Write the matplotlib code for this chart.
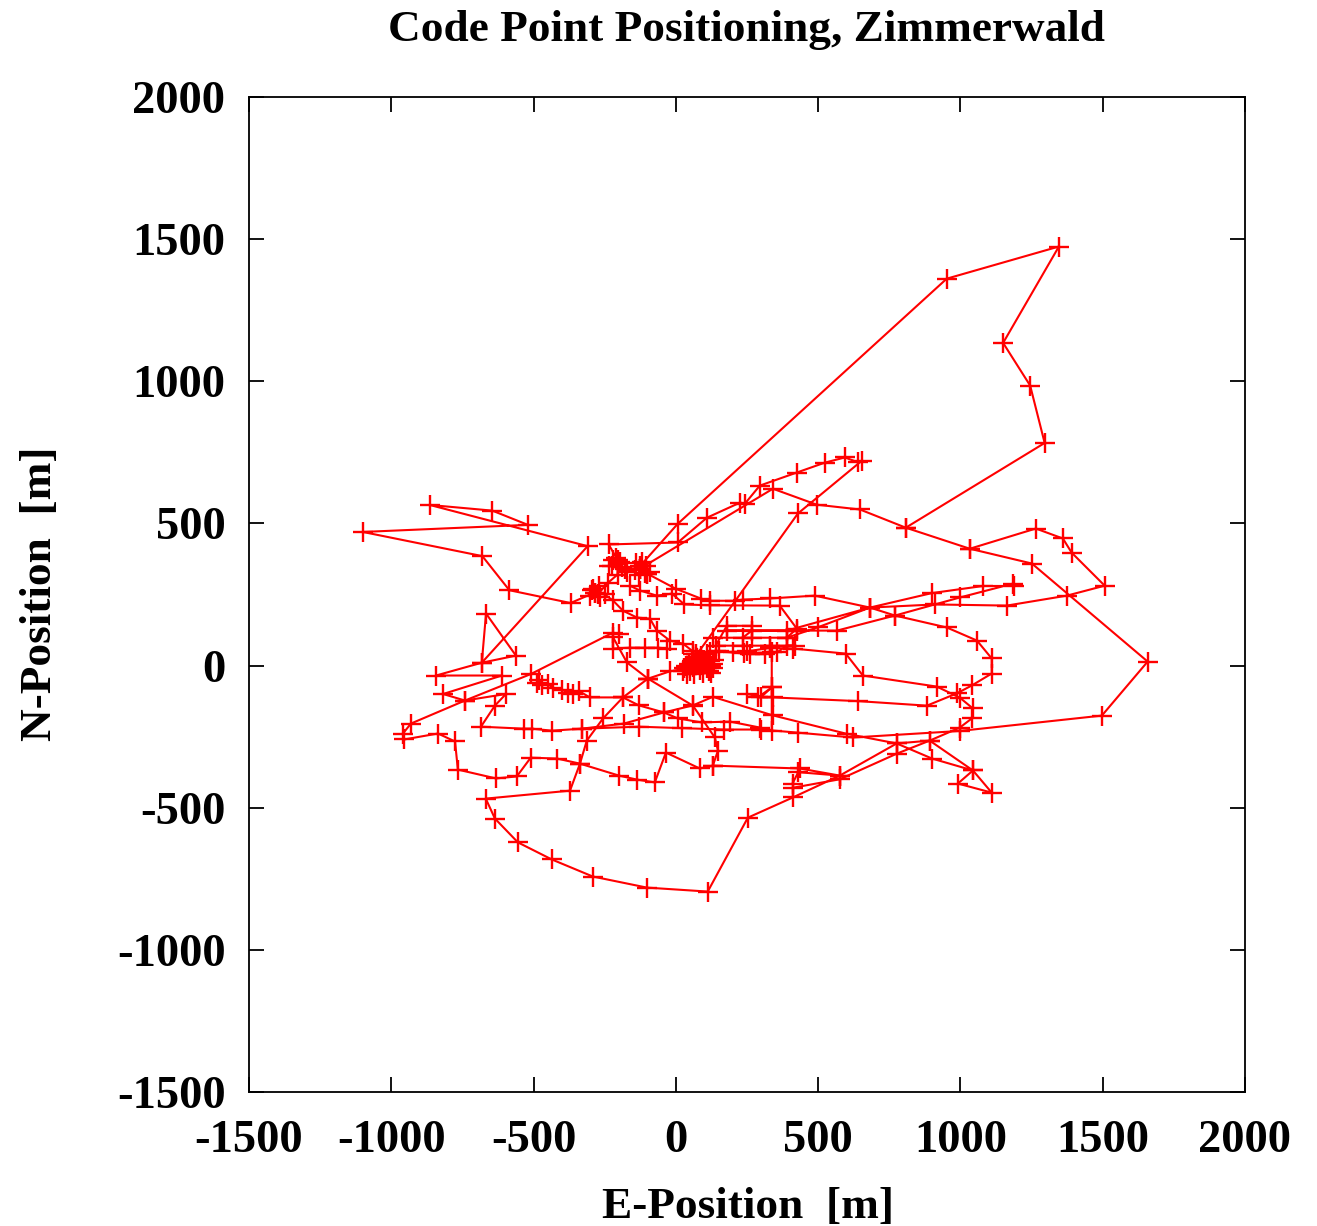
#!/bin/python3
import matplotlib
matplotlib.use('Agg')
import matplotlib.pyplot as plt

# positions, in metres, one list pair per stretch of the track
# dense knot in the middle, then chain up to the left
knot_e = [50, 80, 110, 70, 125, 40, 100, 60, 120, 85, 130, 30, 95, 55, 115, 75, 125, 45, 105, 70, 135, 25, 125, 65, 90, 35, 130, 110, 60, 25, -21, -67, -91, -137, -186, -221, -250, -285, -300, -270, -290, -265, -295, -275, -240, -205, -204, -220, -190, -210, -195, -225, -170, -126, -140, -110, -130, -105, -145, -120, -90, -126]
knot_n = [-20, 10, -10, 30, 0, -30, 20, -5, 15, -15, 5, -10, -25, 15, -20, 25, -5, 5, 5, 40, 20, -20, -25, -30, 35, 0, -10, 40, 50, 77, 88, 123, 165, 169, 193, 229, 250, 257, 245, 280, 270, 240, 265, 250, 290, 320, 359, 370, 345, 380, 365, 350, 330, 341, 360, 325, 320, 350, 335, 365, 330, 341]

# outer loop along the bottom, back through the right side
loop_e = [40, -20, -98, -186, -256, -313, -337, -372, -668, -636, -555, -436, -292, -102, 112, 253, 411, 576, 776, 892, 998, 1040, 1044, 998, 917, 657, 597, 411, 330, 250, 120, 60]
loop_n = [-10, -20, -46, -112, -186, -264, -345, -440, -468, -538, -622, -682, -742, -781, -795, -535, -464, -387, -274, -264, -218, -186, -151, -113, -74, -35, 42, 60, 62, 50, 46, 20]

# top right, up to the highest point and back to the knot
top_e = [60, 429, 654, 640, 594, 524, 425, 295, 243, 225, 109, 7, -236, -204, -235, -180, -126, 341, 495, 647, 808, 1296, 1245, 1150, 1346, 952, 7, -126, -100]
top_n = [20, 535, 721, 715, 732, 714, 679, 633, 570, 573, 520, 433, 426, 370, 350, 340, 341, 622, 566, 549, 485, 783, 985, 1135, 1474, 1361, 499, 350, 323]

# second loop around the right side
mid_e = [-100, 0, 90, 119, 207, 235, 330, 488, 682, 770, 952, 1058, 1110, 1110, 1040, 987, 882, 640, 340, 288, 337, 337, 240, 150, 60]
mid_n = [323, 270, 235, 228, 228, 232, 236, 246, 204, 176, 134, 88, 25, -28, -70, -98, -141, -125, -112, -112, -77, 46, 45, 50, 40]

# far right point and the fan at 1190 / 290
right_e = [808, 1033, 1265, 1360, 1391, 1507, 1374, 1163, 911, 682, 390, 179, 425, 566, 770, 1000, 1184, 1190, 1080, 900, 682, 500, 390, 267, 130]
right_n = [485, 411, 482, 447, 397, 281, 246, 211, 215, 204, 123, 123, 123, 123, 176, 240, 288, 280, 280, 255, 204, 135, 98, 98, 98]

tip_e = [1033, 1251, 1658, 1497, 998, 622, 429, 300, 170, 20, -130, -330]
tip_n = [411, 359, 14, -176, -230, -253, -236, -225, -225, -220, -215, -222]

# left side: westernmost point and the chains below it
left_e = [-285, -370, -585, -680, -1100, -520, -645, -865, -310, -682, -667, -562, -682, -843, -611, -818, -741, -597, -636, -685, -534, -506, -436, -330, -183, -42, 7, 91, 190, 295, 337, 337, 300, 250]
left_n = [257, 220, 265, 385, 470, 495, 545, 565, 420, 10, 183, 35, 10, -35, -35, -100, -123, -100, -141, -215, -222, -222, -229, -222, -204, -165, -186, -200, -197, -218, -230, -77, -110, -100]

# bottom chains with the run through -959 / -239
low_e = [-200, -221, -510, -741, -931, -959, -955, -836, -776, -766, -632, -559, -510, -418, -337, -200, -137, -74, -35, 84, 130, 435, 576, 430, 410]
low_n = [110, 116, -30, -123, -204, -239, -260, -239, -267, -366, -397, -390, -324, -327, -345, -387, -401, -411, -306, -362, -352, -362, -387, -375, -415]

back_e = [130, 148, 137, 60, -98]
back_n = [-352, -299, -253, -141, -46]

# slow stretch from -490 / -55 to the east
slow_e = [-488, -480, -470, -450, -430, -400, -380, -360, -340, -302, -186, -130, -42, 60, 130, 340, 600, 776, 900, 1044, 1110, 991, 1044, 892, 776, 576, 410]
slow_n = [-60, -50, -70, -65, -80, -85, -95, -100, -90, -112, -112, -140, -165, -140, -110, -175, -240, -274, -327, -369, -447, -415, -369, -264, -310, -400, -430]

# short horizontal pieces in the grid right of the knot
grid_e = [140, 200, 260, 313, 355, 390, 418, 330, 235, 140, 179, 267, 267, 235]
grid_n = [50, 46, 40, 40, 46, 70, 70, 70, 70, 70, 140, 140, 123, 98]

# row leaving the upper cluster to the east
row_e = [-160, -126, -67, -14, 30, 120, 365, 425, 390]
row_n = [280, 264, 246, 253, 215, 212, 211, 130, 98]

# row west of the knot and the way down from it
west_e = [-30, -63, -109, -162, -221, -221, -172, -98]
west_n = [60, 63, 63, 63, 60, 100, 11, -46]

legs = [(knot_e, knot_n), (loop_e, loop_n), (top_e, top_n), (mid_e, mid_n), (right_e, right_n),
        (tip_e, tip_n), (left_e, left_n), (low_e, low_n), (back_e, back_n), (slow_e, slow_n),
        (grid_e, grid_n), (row_e, row_n), (west_e, west_n)]

ticks = [-1500, -1000, -500, 0, 500, 1000, 1500, 2000]
tick_labels = ['-1500', '-1000', '-500', '0', '500', '1000', '1500', '2000']
font = 'Liberation Serif'

fig = plt.figure(figsize=(13.17, 12.26), dpi=100)
ax = fig.add_axes([249 / 1317, 1 - 1092 / 1226, (1245 - 249) / 1317, (1092 - 97) / 1226])

for e, n in legs:
    ax.plot(e, n, color='#ff0000', linewidth=1.5, marker='+', markersize=15, markeredgewidth=1.7)

ax.set_xlim(-1500, 2000)
ax.set_ylim(-1500, 2000)
ax.set_xticks(ticks)
ax.set_yticks(ticks)
ax.set_xticklabels(tick_labels)
ax.set_yticklabels(tick_labels)
ax.tick_params(direction='in', length=11, width=1.3, top=True, right=True)
ax.tick_params(axis='x', pad=20)
ax.tick_params(axis='y', pad=17)
for label in ax.get_xticklabels() + ax.get_yticklabels():
    label.set_fontname(font)
    label.set_fontweight('bold')
    label.set_fontsize(33.5)
for spine in ax.spines.values():
    spine.set_linewidth(1.3)

fig.text(747 / 1317, 1 - 30 / 1226, 'Code Point Positioning, Zimmerwald', fontname=font, fontweight='bold',
         fontsize=32.6, ha='center', va='center')
fig.text(748 / 1317, 1 - 1207 / 1226, 'E-Position  [m]', fontname=font, fontweight='bold',
         fontsize=32.6, ha='center', va='center')
fig.text(40 / 1317, 1 - 594 / 1226, 'N-Position  [m]', fontname=font, fontweight='bold',
         fontsize=32.6, ha='center', va='center', rotation=90)

fig.savefig('out.png', dpi=100)
